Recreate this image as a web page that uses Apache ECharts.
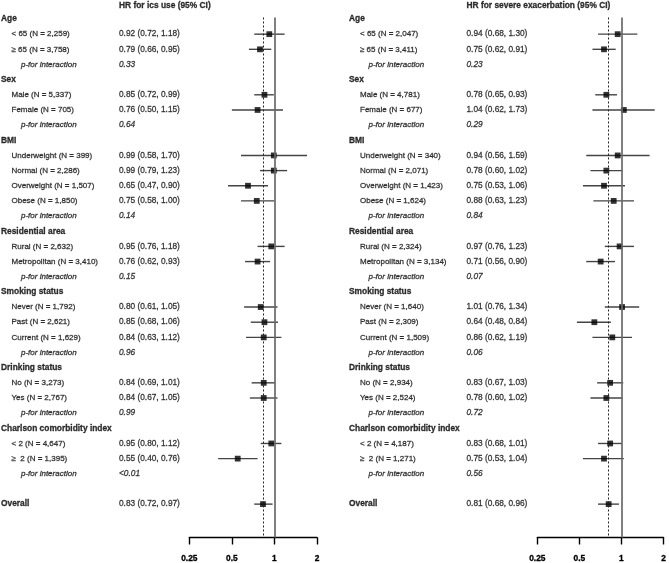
<!DOCTYPE html>
<html>
<head>
<meta charset="utf-8">
<script src="https://cdn.jsdelivr.net/npm/echarts@6/dist/echarts.min.js"></script>
<style>html,body{margin:0;padding:0;background:#fff}#c{width:669px;height:563px}</style>
</head>
<body>
<div id="c"></div>
<script>
// ---------- data ----------
const groupNames = ['Age', 'Sex', 'BMI', 'Residential area', 'Smoking status', 'Drinking status', 'Charlson comorbidity index'];
const subgroupNames = [
  ['< 65', '\u2265 65'],
  ['Male', 'Female'],
  ['Underweight', 'Normal', 'Overweight', 'Obese'],
  ['Rural', 'Metropolitan'],
  ['Never', 'Past', 'Current'],
  ['No', 'Yes'],
  ['< 2', '\u2265  2']
];
const tickValues = [0.25, 0.5, 1, 2];

// Panel 1: HR for ics use
const icsTitle = 'HR for ics use (95% CI)';
const icsN = [2259, 3758, 5337, 705, 399, 2286, 1507, 1850, 2632, 3410, 1792, 2621, 1629, 3273, 2767, 4647, 1395];
const icsHR = [0.92, 0.79, 0.85, 0.76, 0.99, 0.99, 0.65, 0.75, 0.95, 0.76, 0.80, 0.85, 0.84, 0.84, 0.84, 0.95, 0.55];
const icsLower = [0.72, 0.66, 0.72, 0.50, 0.58, 0.79, 0.47, 0.58, 0.76, 0.62, 0.61, 0.68, 0.63, 0.69, 0.67, 0.80, 0.40];
const icsUpper = [1.18, 0.95, 0.99, 1.15, 1.70, 1.23, 0.90, 1.00, 1.18, 0.93, 1.05, 1.06, 1.12, 1.01, 1.05, 1.12, 0.76];
const icsP = ['0.33', '0.64', '0.14', '0.15', '0.96', '0.99', '<0.01'];
const icsOverall = [0.83, 0.72, 0.97];

// Panel 2: HR for severe exacerbation
const exaTitle = 'HR for severe exacerbation (95% CI)';
const exaN = [2047, 3411, 4781, 677, 340, 2071, 1423, 1624, 2324, 3134, 1640, 2309, 1509, 2934, 2524, 4187, 1271];
const exaHR = [0.94, 0.75, 0.78, 1.04, 0.94, 0.78, 0.75, 0.88, 0.97, 0.71, 1.01, 0.64, 0.86, 0.83, 0.78, 0.83, 0.75];
const exaLower = [0.68, 0.62, 0.65, 0.62, 0.56, 0.60, 0.53, 0.63, 0.76, 0.56, 0.76, 0.48, 0.62, 0.67, 0.60, 0.68, 0.53];
const exaUpper = [1.30, 0.91, 0.93, 1.73, 1.59, 1.02, 1.06, 1.23, 1.23, 0.90, 1.34, 0.84, 1.19, 1.03, 1.02, 1.01, 1.04];
const exaP = ['0.23', '0.29', '0.84', '0.07', '0.06', '0.72', '0.56'];
const exaOverall = [0.81, 0.68, 0.96];

// ---------- layout ----------
const W = 669;
const ROW0 = 19, ROWH = 15.16, AXIS_Y = 537.5;
const MAXROW = (AXIS_Y - ROW0) / ROWH;
const TEXT_MIN = -1.25, PLOT_MIN = -0.1;
const TITLE_ROW = -0.87;
const FONT = '"Liberation Sans", Arial, Helvetica, sans-serif';
const panels = [
  { title: icsTitle, N: icsN, hr: icsHR, lo: icsLower, hi: icsUpper, p: icsP, overall: icsOverall,
    xs: { header: 0.5, sub: 11, p: 20.5, val: 118.5 }, plotLeft: 189.3, plotRight: 317 },
  { title: exaTitle, N: exaN, hr: exaHR, lo: exaLower, hi: exaUpper, p: exaP, overall: exaOverall,
    xs: { header: 348.5, sub: 359.5, p: 368, val: 466 }, plotLeft: 537.3, plotRight: 666.7 }
];

function fmtN(n) { return String(n).replace(/\B(?=(\d{3})+(?!\d))/g, ','); }
function fmtCI(h, l, u) { return h.toFixed(2) + ' (' + l.toFixed(2) + ', ' + u.toFixed(2) + ')'; }

const grids = [{ left: 0, width: W, top: ROW0 + TEXT_MIN * ROWH, height: (MAXROW - TEXT_MIN) * ROWH }];
const xAxes = [{ gridIndex: 0, type: 'value', min: 0, max: W, show: false }];
const yAxes = [{ gridIndex: 0, type: 'value', min: TEXT_MIN, max: MAXROW, inverse: true, show: false }];
const series = [];

function textSeries(data, style) {
  const c = style.color || '#111';
  return {
    type: 'scatter', xAxisIndex: 0, yAxisIndex: 0, data: data, symbolSize: 1, clip: false,
    itemStyle: { color: 'rgba(0,0,0,0)' }, silent: true, z: 5,
    label: Object.assign({ show: true, position: 'right', distance: 0, fontFamily: FONT, color: c,
      textBorderColor: c, textBorderWidth: 0.3,
      formatter: p => p.value[2] }, style)
  };
}

panels.forEach((pn, k) => {
  const headers = [], subs = [], pLabels = [], vals = [], pVals = [], ci = [], pts = [];
  let r = 0, idx = 0;
  headers.push([pn.xs.val, TITLE_ROW, pn.title]);
  groupNames.forEach((g, gi) => {
    headers.push([pn.xs.header, r++, g]);
    subgroupNames[gi].forEach(s => {
      subs.push([pn.xs.sub, r, s + ' (N = ' + fmtN(pn.N[idx]) + ')']);
      vals.push([pn.xs.val, r, fmtCI(pn.hr[idx], pn.lo[idx], pn.hi[idx])]);
      ci.push([pn.lo[idx], pn.hi[idx], r]);
      pts.push([pn.hr[idx], r]);
      r++; idx++;
    });
    pLabels.push([pn.xs.p, r, 'p-for interaction']);
    pVals.push([pn.xs.val, r, pn.p[gi]]);
    r++;
  });
  r++; // blank row
  headers.push([pn.xs.header, r, 'Overall']);
  vals.push([pn.xs.val, r, fmtCI(pn.overall[0], pn.overall[1], pn.overall[2])]);
  ci.push([pn.overall[1], pn.overall[2], r]);
  pts.push([pn.overall[0], r]);

  series.push(textSeries(headers, { fontSize: 8.4, fontWeight: 'bold', color: '#000' }));
  series.push(textSeries(subs, { fontSize: 8 }));
  series.push(textSeries(pLabels, { fontSize: 8, fontStyle: 'italic' }));
  series.push(textSeries(vals, { fontSize: 8.3 }));
  series.push(textSeries(pVals, { fontSize: 8.3, fontStyle: 'italic' }));

  const gi = k + 1;
  grids.push({ left: pn.plotLeft, width: pn.plotRight - pn.plotLeft, top: ROW0 + PLOT_MIN * ROWH,
    height: (MAXROW - PLOT_MIN) * ROWH });
  xAxes.push({
    gridIndex: gi, type: 'log', logBase: 2, min: tickValues[0], max: tickValues[tickValues.length - 1], interval: 1,
    position: 'bottom',
    axisLine: { show: true, onZero: false, lineStyle: { color: '#000', width: 1.4 } },
    axisTick: { show: true, inside: false, length: 7, lineStyle: { color: '#000', width: 1.4 } },
    splitLine: { show: false }, minorTick: { show: false },
    axisLabel: { show: true, margin: 17, fontFamily: FONT, fontSize: 8.4, fontWeight: 'bold', color: '#000',
      textBorderColor: '#000', textBorderWidth: 0.3,
      formatter: v => String(+(+v).toFixed(2)) }
  });
  yAxes.push({ gridIndex: gi, type: 'value', min: PLOT_MIN, max: MAXROW, inverse: true, show: false });

  series.push({
    type: 'custom', xAxisIndex: gi, yAxisIndex: gi, data: ci, clip: false, z: 2, silent: true,
    encode: { x: [0, 1], y: 2 },
    renderItem: (params, api) => {
      const a = api.coord([api.value(0), api.value(2)]);
      const b = api.coord([api.value(1), api.value(2)]);
      return { type: 'line', shape: { x1: a[0], y1: a[1], x2: b[0], y2: b[1] },
        style: { stroke: '#444', lineWidth: 1.4 } };
    },
    markLine: {
      silent: true, symbol: 'none', label: { show: false }, animation: false,
      data: [
        { xAxis: 1, lineStyle: { color: '#6a6a6a', width: 1.7, type: 'solid' } },
        { xAxis: pn.overall[0], lineStyle: { color: '#222', width: 1, type: [2, 2] } }
      ]
    }
  });
  series.push({
    type: 'scatter', xAxisIndex: gi, yAxisIndex: gi, data: pts, symbol: 'rect', symbolSize: 5.8,
    itemStyle: { color: '#000' }, z: 4, silent: true
  });
});

const chart = echarts.init(document.getElementById('c'), null, { renderer: 'canvas' });
chart.setOption({
  animation: false,
  backgroundColor: '#fff',
  grid: grids, xAxis: xAxes, yAxis: yAxes, series: series
});
</script>
</body>
</html>
